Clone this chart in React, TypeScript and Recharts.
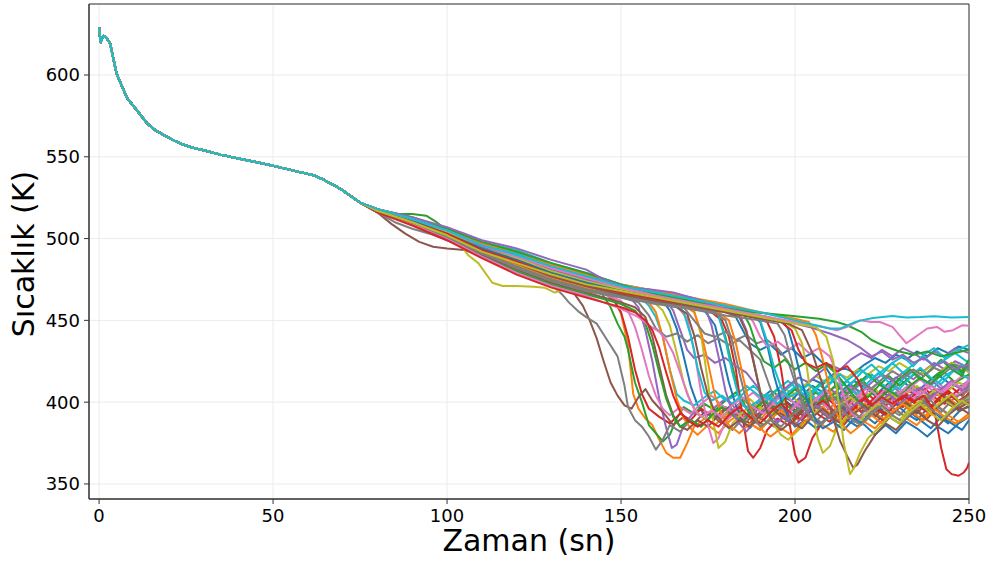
import React from "react";
import { LineChart, Line, XAxis, YAxis, CartesianGrid, Label, ReferenceArea } from "recharts";

const COLORS = ["#1f77b4", "#ff7f0e", "#2ca02c", "#d62728", "#9467bd", "#8c564b", "#e377c2", "#7f7f7f", "#bcbd22", "#17becf"];
const X_TICKS = [0, 50, 100, 150, 200, 250];
const Y_TICKS = [350, 400, 450, 500, 550, 600];

// shared early cooling curve (all runs overlap here)
const PREFIX = [[0,629],[0.4,620],[1.2,624],[2.2,622.5],[3.2,619],[4.2,609],[5,601],[6,596],[7,591],[8,586],[9.5,582],[11,578],[12.5,574],[14,570],[16,566.5],[18,564],[21,560.5],[24,557.5],[27,555.5],[30,554],[35,551.3],[40,549],[45,546.8],[50,544.5],[55,542],[60,539.5],[62,538.5],[65,535.5],[68,532],[70,529.5],[72,526.5],[75,522]];

const s00 = [[80,518],[90,511],[100,504],[110,494],[120,488],[130,480],[140,474],[150,469],[158,466],[162,462],[164,456],[166,445],[168,428],[170,410],[172,398],[174,392],[176,394],[178,389],[181,393],[184,399],[187,396],[190,402],[193,407],[196,403],[199,398],[202,404],[205,410],[208,406],[211,401],[214,408],[217,413],[220,409],[223,404],[226,410],[229,415],[232,411],[235,406],[238,412],[241,417],[244,412],[247,409],[250,413]];
const s01 = [[80,517],[90,510],[95,507],[101,504],[105,503],[108,499],[110,494],[115,488],[120,484],[130,477],[140,471],[145,468],[148,463],[150,454],[152,435],[153.5,405],[155,396],[157,390],[159,386],[161,377],[163,369],[165,366],[167,366],[169,375],[171,385],[174,390],[177,386],[180,392],[183,397],[186,391],[189,387],[192,394],[195,399],[198,393],[201,389],[204,396],[207,401],[210,396],[213,392],[216,399],[219,405],[222,399],[225,395],[228,402],[231,407],[234,401],[237,397],[240,404],[243,409],[246,403],[250,407]];
const s02 = [[80,518],[84,516],[86,515],[90,515],[94,514],[97,510],[100,505],[110,495],[120,489],[130,481],[140,474],[144,468],[147,458],[149,448],[151,440],[152,432],[154,412],[156,400],[158,386],[160,381],[162,376],[164,380],[166,390],[168,397],[171,393],[174,399],[177,395],[180,401],[183,406],[186,400],[189,396],[192,403],[195,408],[198,402],[201,398],[204,405],[207,411],[210,405],[213,401],[216,408],[219,414],[222,408],[225,404],[228,411],[231,416],[234,410],[237,406],[240,413],[243,418],[246,412],[250,417]];
const s03 = [[80,517],[90,510],[100,502],[110,492],[120,484],[130,476],[140,470],[145,467],[148,462],[150,455],[152,440],[154,420],[156,405],[158,396],[161,391],[164,387],[167,393],[170,389],[173,396],[176,392],[179,387],[182,394],[185,399],[188,393],[191,389],[194,396],[197,401],[200,395],[203,391],[206,398],[209,403],[212,397],[215,393],[218,400],[221,405],[224,399],[227,395],[230,402],[233,407],[236,401],[239,397],[242,404],[245,409],[248,404],[250,409]];
const s04 = [[80,518],[90,511],[100,503],[110,493],[120,487],[130,479],[140,473],[150,467],[153,463],[155,458],[157,444],[159,425],[161,402],[163,384],[164.6,372],[166,374],[168,386],[171,394],[174,390],[177,397],[180,402],[183,396],[186,392],[189,399],[192,404],[195,398],[198,394],[201,401],[204,406],[207,400],[210,396],[213,403],[216,408],[219,402],[222,398],[225,405],[228,410],[231,404],[234,400],[237,407],[240,412],[243,406],[246,402],[250,411]];
const s05 = [[80,516],[84,509],[88,503],[92,498],[96,495],[100,494],[105,493],[110,490],[115,486],[120,482],[125,479],[130,474],[134,470],[136,468],[139,459],[141,450],[143,439],[145,425],[147,412],[149,404],[151,398],[153,396],[155,403],[157,408],[159,401],[162,394],[165,386],[168,391],[171,387],[174,394],[177,390],[180,397],[183,392],[186,388],[189,395],[192,400],[195,394],[198,390],[201,397],[204,402],[207,396],[210,392],[213,399],[216,404],[219,398],[222,394],[225,401],[228,406],[231,400],[234,396],[237,403],[240,408],[243,402],[246,398],[250,405]];
const s06 = [[80,517],[90,510],[100,502],[110,491],[120,483],[130,475],[140,469],[145,466],[150,462],[152,456],[154,446],[156,432],[158,416],[160,404],[162,396],[164,392],[167,397],[170,393],[173,399],[176,404],[179,398],[182,394],[185,401],[188,406],[191,400],[194,396],[197,403],[200,408],[203,402],[206,398],[209,405],[212,410],[215,404],[218,400],[221,407],[224,412],[227,406],[230,402],[233,409],[236,414],[239,408],[242,404],[245,411],[248,416],[250,415]];
const s07 = [[80,516],[85,510],[90,506],[95,503],[100,499],[110,490],[120,483],[126,478],[130,472],[133,466],[135,461],[138,455],[140,452],[143,448],[146,438],[149,428],[151,410],[152,397],[154,389],[156,385],[158,379],[160,371],[162,377],[164,386],[167,382],[170,389],[173,385],[176,392],[179,388],[182,383],[185,390],[188,395],[191,389],[194,385],[197,392],[200,398],[203,392],[206,388],[209,395],[212,400],[215,394],[218,390],[221,397],[224,402],[227,396],[230,392],[233,399],[236,404],[239,398],[242,394],[245,401],[248,406],[250,408]];
const s08 = [[80,517],[90,510],[100,503],[104,496],[106,490],[109,485],[113,473],[116,471],[120,471],[125,470.5],[128,470],[131,467],[135,470],[140,469],[145,467],[150,465],[155,463],[160,460],[162,456],[164,447],[166,430],[168,412],[170,400],[172,393],[175,389],[178,395],[181,391],[184,397],[187,402],[190,396],[193,392],[196,399],[199,404],[202,398],[205,394],[208,401],[211,406],[214,400],[217,396],[220,403],[223,408],[226,402],[229,398],[232,405],[235,410],[238,404],[241,400],[244,407],[247,412],[250,409]];
const s09 = [[80,518],[90,511],[100,505],[110,495],[115,491],[118,490],[121,488],[124,486],[128,481],[130,479],[135,478],[140,476],[145,473],[150,470],[155,465],[158,459],[160,452],[162,440],[164,420],[166,405],[168,401],[171,398],[174,403],[177,407],[180,401],[183,404],[186,410],[189,405],[192,401],[195,408],[198,413],[201,407],[204,403],[207,410],[210,415],[213,409],[216,405],[219,412],[222,417],[225,411],[228,407],[231,414],[234,419],[237,413],[240,409],[243,416],[246,420],[250,414]];
const s10 = [[80,517],[90,511],[100,503],[110,493],[120,486],[130,478],[140,472],[150,467],[160,463],[170,459],[174,456],[177,447],[179,430],[181,412],[183,398],[185,388],[187,384],[190,392],[193,399],[196,404],[199,401],[202,408],[205,414],[208,411],[211,417],[214,421],[217,418],[220,423],[223,427],[226,424],[229,429],[232,426],[235,431],[238,428],[241,433],[244,430],[247,434],[250,432]];
const s11 = [[80,517],[90,511],[100,503],[110,494],[120,487],[130,479],[140,473],[150,468],[155,465],[158,461],[160,455],[162,440],[164,420],[166,402],[168,390],[170,384],[172,380],[175,386],[178,381],[181,388],[184,393],[187,387],[190,383],[193,390],[196,395],[199,389],[202,385],[205,392],[208,397],[211,391],[214,387],[217,394],[220,399],[223,393],[226,389],[229,396],[232,401],[235,395],[238,391],[241,398],[244,403],[247,397],[250,406]];
const s12 = [[80,518],[90,512],[100,505],[110,496],[120,490],[130,482],[140,476],[150,470],[160,466],[170,462],[175,459],[178,453],[180,440],[182,422],[184,405],[186,396],[188,390],[191,386],[194,393],[197,399],[200,394],[203,400],[206,406],[209,400],[212,407],[215,413],[218,407],[221,403],[224,410],[227,416],[230,410],[233,415],[236,420],[239,414],[242,419],[245,424],[248,418],[250,423]];
const s13 = [[80,516],[90,510],[100,502],[110,492],[120,484],[130,476],[140,470],[150,466],[160,462],[170,458],[176,455],[179,450],[181,440],[183,420],[185,390],[186.5,370],[188,366],[190,372],[192,383],[195,390],[198,386],[201,393],[204,398],[207,392],[210,388],[213,395],[216,400],[219,394],[222,401],[225,407],[228,401],[231,397],[234,404],[237,409],[240,403],[243,399],[246,406],[250,412]];
const s14 = [[80,517],[90,511],[100,504],[110,494],[120,488],[130,480],[140,474],[150,469],[158,465],[163,462],[165,456],[167,444],[169,432],[171,427],[174,429],[177,424],[180,427],[183,422],[186,418],[189,410],[191,400],[193,392],[195,388],[198,393],[201,399],[204,395],[207,402],[210,408],[213,404],[216,410],[219,406],[222,412],[225,417],[228,413],[231,418],[234,414],[237,419],[240,424],[243,420],[246,425],[250,421]];
const s15 = [[80,517],[90,509],[100,501],[110,490],[120,481],[130,473],[140,467],[145,464],[150,461],[154,458],[157,452],[159,440],[161,422],[163,404],[165,392],[167,385],[169,383],[172,389],[175,385],[178,392],[181,397],[184,391],[187,387],[190,394],[193,399],[196,393],[199,389],[202,396],[205,401],[208,395],[211,391],[214,398],[217,403],[220,397],[223,393],[226,400],[229,405],[232,399],[235,395],[238,402],[241,407],[244,401],[247,397],[250,406]];
const s16 = [[80,517],[90,511],[100,503],[110,493],[120,486],[130,478],[140,472],[150,467],[160,463],[166,459],[169,451],[171,432],[173,406],[175,386],[176.5,375],[178,378],[180,388],[183,394],[186,389],[189,397],[192,403],[195,397],[198,393],[201,400],[204,406],[207,400],[210,396],[213,403],[216,409],[219,403],[222,399],[225,406],[228,412],[231,406],[234,402],[237,409],[240,414],[243,408],[246,404],[250,409]];
const s17 = [[80,516],[90,509],[100,501],[110,491],[120,482],[130,474],[140,468],[150,464],[155,461],[158,453],[160,445],[163,440],[166,442],[169,437],[172,441],[175,436],[178,439],[181,435],[184,438],[187,432],[190,426],[192,414],[194,402],[196,395],[199,391],[202,397],[205,402],[208,396],[211,392],[214,399],[217,404],[220,398],[223,394],[226,401],[229,406],[232,400],[235,396],[238,403],[241,408],[244,402],[247,398],[250,411]];
const s18 = [[80,518],[90,512],[100,504],[110,495],[120,489],[130,481],[140,475],[150,469],[160,465],[168,461],[171,456],[173,441],[175,412],[176.5,388],[178,372],[180,376],[182,387],[185,394],[188,399],[191,396],[194,403],[197,408],[200,405],[203,411],[206,416],[209,412],[212,418],[215,415],[218,420],[221,417],[224,422],[227,419],[230,424],[233,420],[236,417],[239,422],[242,419],[245,424],[248,421],[250,418]];
const s19 = [[80,518],[90,512],[100,505],[110,496],[118,491],[124,488],[130,484],[140,478],[150,471],[160,466],[165,463],[168,455],[170,441],[172,421],[174,406],[176,401],[179,404],[182,399],[185,405],[188,410],[191,404],[194,400],[197,407],[200,412],[203,406],[206,402],[209,409],[212,415],[215,409],[218,405],[221,412],[224,418],[227,412],[230,408],[233,415],[236,421],[239,415],[242,411],[245,418],[248,423],[250,419]];
const s20 = [[80,517],[90,511],[100,503],[110,494],[120,487],[130,479],[140,473],[150,468],[160,464],[170,460],[180,456],[183,452],[185,444],[187,436],[190,432],[193,435],[196,429],[199,433],[202,427],[205,430],[208,424],[211,414],[213,402],[215,393],[217,388],[220,392],[223,387],[226,394],[229,399],[232,393],[235,389],[238,396],[241,392],[244,387],[247,394],[250,398]];
const s21 = [[80,516],[90,510],[100,502],[110,492],[120,485],[130,477],[140,471],[150,466],[160,462],[168,459],[171,455],[173,443],[175,424],[177,404],[179,392],[181,386],[184,381],[187,387],[190,383],[193,390],[196,395],[199,389],[202,385],[205,392],[208,397],[211,391],[214,387],[217,394],[220,399],[223,393],[226,389],[229,396],[232,401],[235,395],[238,391],[241,398],[244,403],[247,397],[250,401]];
const s22 = [[80,517],[90,509],[100,500],[110,489],[120,480],[130,472],[140,466],[145,463],[150,460],[154,456],[157,448],[159,435],[161,418],[163,402],[165,391],[167,385],[170,389],[173,385],[176,392],[179,397],[182,392],[185,388],[188,395],[191,401],[194,396],[197,402],[200,408],[203,402],[206,398],[209,405],[212,411],[215,405],[218,411],[221,417],[224,411],[227,407],[230,414],[233,420],[236,414],[239,420],[242,426],[245,420],[248,416],[250,425]];
const s23 = [[80,517],[90,510],[100,503],[110,493],[120,486],[130,478],[140,472],[150,467],[160,463],[170,459],[180,456],[188,452],[192,449],[194,440],[196,420],[198,392],[200,368],[201,363],[203,366],[205,378],[208,388],[211,394],[214,389],[217,396],[220,402],[223,396],[226,392],[229,399],[232,404],[235,398],[238,394],[241,401],[244,406],[247,400],[250,405]];
const s24 = [[80,518],[90,512],[100,505],[110,497],[120,491],[130,483],[140,477],[150,471],[160,467],[170,463],[174,459],[176,447],[178,428],[180,407],[182,394],[184,387],[186,382],[189,390],[192,398],[195,404],[198,410],[201,415],[204,412],[207,418],[210,423],[213,420],[216,426],[219,430],[222,427],[225,432],[228,428],[231,433],[234,430],[237,426],[240,431],[243,428],[246,433],[250,430]];
const s25 = [[80,517],[90,510],[100,502],[110,491],[120,483],[130,475],[140,469],[150,465],[160,461],[166,458],[169,454],[171,441],[173,421],[175,404],[177,394],[179,388],[181,384],[184,389],[187,385],[190,392],[193,397],[196,391],[199,387],[202,394],[205,399],[208,393],[211,389],[214,396],[217,401],[220,395],[223,391],[226,398],[229,403],[232,397],[235,393],[238,400],[241,405],[244,399],[247,395],[250,397]];
const s26 = [[80,517],[90,509],[100,500],[110,489],[115,484],[120,479],[130,471],[140,465],[145,461],[150,457],[155,452],[158,447],[161,443],[163,438],[165,430],[167,418],[169,405],[171,396],[173,391],[176,395],[179,391],[182,398],[185,403],[188,397],[191,393],[194,400],[197,405],[200,399],[203,395],[206,402],[209,407],[212,401],[215,397],[218,404],[221,409],[224,403],[227,399],[230,406],[233,411],[236,405],[239,401],[242,408],[245,413],[248,407],[250,413]];
const s27 = [[80,516],[90,511],[100,504],[110,494],[120,488],[130,480],[140,474],[150,469],[160,465],[165,462],[168,458],[171,450],[174,442],[177,440],[180,443],[183,438],[186,441],[189,436],[192,438],[195,433],[198,425],[200,412],[202,400],[204,394],[207,398],[210,404],[213,400],[216,407],[219,412],[222,408],[225,414],[228,419],[231,415],[234,420],[237,416],[240,421],[243,418],[246,423],[250,420]];
const s28 = [[80,517],[90,511],[100,503],[110,494],[120,487],[130,479],[140,473],[150,468],[160,464],[170,460],[180,456],[184,453],[186,444],[188,426],[190,407],[192,394],[194,386],[196,380],[198,377],[201,383],[204,390],[207,396],[210,391],[213,398],[216,403],[219,397],[222,393],[225,400],[228,405],[231,399],[234,395],[237,402],[240,407],[243,401],[246,397],[250,403]];
const s29 = [[80,518],[90,512],[100,506],[110,498],[120,493],[130,485],[140,479],[150,472],[160,468],[170,464],[176,460],[178,453],[180,438],[182,418],[184,402],[186,396],[189,400],[192,405],[195,399],[198,406],[201,411],[204,405],[207,410],[210,416],[213,410],[216,415],[219,420],[222,414],[225,419],[228,424],[231,418],[234,423],[237,428],[240,422],[243,426],[246,430],[250,424]];
const s30 = [[80,517],[90,511],[100,504],[110,494],[120,488],[130,480],[140,474],[150,469],[160,465],[170,461],[180,457],[187,454],[190,449],[192,435],[194,416],[196,401],[198,391],[200,385],[203,389],[206,384],[209,390],[212,395],[215,389],[218,385],[221,392],[224,397],[227,391],[230,387],[233,394],[236,389],[239,384],[242,391],[245,387],[248,383],[250,389]];
const s31 = [[80,517],[90,510],[100,502],[110,492],[120,484],[130,476],[140,470],[150,466],[160,462],[170,458],[178,455],[181,450],[183,436],[185,416],[187,398],[189,388],[191,382],[193,379],[196,384],[199,380],[202,387],[205,392],[208,386],[211,382],[214,389],[217,394],[220,388],[223,384],[226,391],[229,396],[232,390],[235,386],[238,393],[241,398],[244,392],[247,388],[250,393]];
const s32 = [[80,518],[90,512],[100,505],[110,496],[120,490],[130,482],[140,476],[150,470],[160,466],[170,462],[180,458],[185,455],[187,447],[189,434],[191,425],[194,421],[197,426],[200,420],[203,424],[206,419],[209,423],[212,417],[215,409],[218,401],[221,396],[224,402],[227,407],[230,403],[233,410],[236,415],[239,411],[242,418],[245,423],[248,419],[250,426]];
const s33 = [[80,516],[90,508],[100,499],[110,488],[120,478],[130,470],[140,464],[145,461],[150,458],[154,455],[157,450],[159,444],[161,433],[163,418],[165,404],[167,394],[169,389],[172,385],[175,389],[178,385],[181,392],[184,397],[187,391],[190,387],[193,394],[196,399],[199,393],[202,389],[205,396],[208,401],[211,395],[214,391],[217,398],[220,403],[223,397],[226,393],[229,400],[232,405],[235,399],[238,395],[241,402],[244,407],[247,401],[250,404]];
const s34 = [[80,517],[90,511],[100,504],[110,495],[120,489],[130,481],[140,475],[150,470],[160,465],[170,461],[180,457],[184,454],[186,444],[188,426],[190,406],[192,394],[194,387],[197,391],[200,386],[203,393],[206,398],[209,392],[212,388],[215,395],[218,400],[221,394],[224,399],[227,405],[230,399],[233,404],[236,409],[239,403],[242,408],[245,413],[248,407],[250,410]];
const s35 = [[80,517],[90,510],[100,502],[110,493],[120,485],[130,477],[140,471],[150,466],[160,462],[170,459],[180,455],[184,452],[186,443],[188,425],[190,406],[192,394],[194,387],[196,383],[199,388],[202,384],[205,391],[208,396],[211,390],[214,386],[217,393],[220,398],[223,392],[226,388],[229,395],[232,400],[235,394],[238,390],[241,397],[244,402],[247,396],[250,400]];
const s36 = [[80,517],[90,512],[100,505],[110,496],[120,490],[130,482],[140,476],[150,470],[160,466],[170,462],[180,458],[186,455],[188,449],[190,440],[192,434],[195,437],[198,432],[201,436],[204,430],[207,433],[210,428],[212,418],[214,404],[216,394],[218,389],[221,394],[224,400],[227,396],[230,403],[233,408],[236,404],[239,410],[242,406],[245,412],[248,409],[250,414]];
const s37 = [[80,517],[90,510],[100,502],[110,491],[120,483],[130,475],[140,469],[150,465],[160,461],[170,458],[177,455],[180,450],[182,437],[184,418],[186,401],[188,391],[190,385],[193,389],[196,385],[199,392],[202,397],[205,391],[208,387],[211,394],[214,399],[217,393],[220,389],[223,396],[226,401],[229,395],[232,391],[235,398],[238,403],[241,397],[244,393],[247,400],[250,404]];
const s38 = [[80,517],[90,511],[100,504],[110,494],[120,488],[130,480],[140,474],[150,469],[160,465],[170,461],[180,457],[190,453],[196,450],[200,445],[202,436],[203.5,420],[205,396],[206.5,378],[208,369],[210,373],[212,384],[215,392],[218,387],[221,394],[224,399],[227,393],[230,389],[233,396],[236,401],[239,395],[242,400],[245,405],[248,399],[250,403]];
const s39 = [[80,517],[90,512],[100,505],[110,496],[120,491],[130,483],[140,477],[150,471],[160,467],[170,463],[180,459],[187,455],[190,450],[192,437],[194,421],[196,409],[198,403],[201,406],[204,411],[207,405],[210,412],[213,417],[216,411],[219,418],[222,423],[225,417],[228,424],[231,428],[234,422],[237,429],[240,433],[243,427],[246,431],[250,435]];
const s40 = [[80,517],[90,511],[100,503],[110,494],[120,487],[130,479],[140,473],[150,468],[160,464],[170,460],[180,456],[190,452],[196,450],[198,445],[200,430],[202,412],[204,398],[206,389],[208,384],[211,388],[214,383],[217,390],[220,386],[223,380],[226,386],[229,381],[232,388],[235,384],[238,379],[241,385],[244,381],[247,387],[250,391]];
const s41 = [[80,518],[90,512],[100,506],[110,497],[120,492],[130,484],[140,478],[150,472],[160,468],[170,464],[180,460],[190,455],[200,451],[204,449],[206,441],[208,426],[210,407],[212,393],[214,385],[216,381],[219,386],[222,392],[225,387],[228,394],[231,399],[234,393],[237,389],[240,396],[243,391],[246,387],[250,391]];
const s42 = [[80,518],[90,513],[100,506],[110,498],[120,492],[130,485],[140,479],[150,472],[160,466],[170,462],[178,458],[188,455],[198,453],[207,451],[212,449],[215,447],[219,443],[222,438],[226,434],[230,431],[234,429],[238,431],[242,428],[246,430],[250,432]];
const s43 = [[80,517],[90,510],[100,503],[110,493],[120,486],[130,478],[140,472],[150,467],[160,463],[170,459],[180,456],[190,452],[196,449],[199,444],[201,432],[203,424],[206,421],[209,424],[212,419],[215,422],[218,414],[220,404],[222,398],[225,403],[228,399],[231,404],[234,400],[237,404],[239,398],[240.5,390],[242,372],[243.5,359],[245,356],[247,355],[248.5,357],[249.5,360],[250,363]];
const s44 = [[80,518],[90,513],[100,507],[110,499],[120,494],[130,487],[140,481],[145,475],[151.7,470],[158,469],[165,467],[172.7,462.5],[177.5,458],[185,455],[192,452],[198,449],[204,446],[210,442],[215,438],[219,433],[222,428],[225,431],[228,426],[231,429],[234,424],[237,427],[240,422],[243,425],[246,420],[250,423]];
const s45 = [[80,517],[90,510],[100,502],[110,492],[120,485],[130,477],[140,471],[150,466],[160,462],[170,459],[180,455],[190,451],[198,448],[202,444],[205,430],[208,410],[211,390],[213,376],[215,367],[216.7,360],[218,362],[220,370],[223,380],[226,387],[229,383],[232,390],[235,395],[238,389],[241,385],[244,392],[247,397],[250,393]];
const s46 = [[80,518],[90,512],[100,505],[110,496],[120,489],[130,482],[140,476],[150,470],[160,465],[170,461],[180,457],[190,453],[200,449],[208,446],[212,444],[215,446],[218.7,450],[222,449],[224.4,449],[228,446],[230,441],[232,436],[234,439],[236,442],[238,445],[240.8,446],[243,443],[245.4,444],[248,447],[250,446.7]];
const s47 = [[80,517],[90,510],[100,501],[110,491],[120,482],[130,474],[140,468],[150,464],[160,460],[170,457],[180,453],[190,450],[195,448],[197,441],[199,425],[201,407],[203,395],[205,389],[207,386],[210,391],[213,396],[216,390],[219,386],[222,393],[225,398],[228,392],[231,388],[234,395],[237,400],[240,394],[243,390],[246,397],[250,402]];
const s48 = [[80,517],[90,510],[100,502],[110,492],[120,485],[130,478],[140,472],[150,468],[160,464],[170,460],[180,456],[190,452],[200,448],[206,446],[209,440],[211,425],[212.5,400],[214,375],[215.8,356],[217,360],[218.7,369],[221,378],[224.4,385],[227,391],[230,387],[233,394],[236,399],[239,393],[242,389],[245,396],[248,401],[250,398]];
const s49 = [[80,518],[90,512],[100,505],[110,496],[120,490],[130,483],[140,477],[150,471],[160,467],[170,463],[180,459],[190,455],[200,450],[206,447],[210,445],[213,445],[216.7,448.5],[219,450],[222.4,451.4],[228,452.6],[232,451.8],[236,452],[240,452.5],[245,451.8],[250,452]];

const RUNS = [s00,s01,s02,s03,s04,s05,s06,s07,s08,s09,s10,s11,s12,s13,s14,s15,s16,s17,s18,s19,s20,s21,s22,s23,s24,s25,s26,s27,s28,s29,s30,s31,s32,s33,s34,s35,s36,s37,s38,s39,s40,s41,s42,s43,s44,s45,s46,s47,s48,s49];

const seriesData = RUNS.map((run) => [...PREFIX, ...run].map(([t, v]) => ({ t, v })));

const X_DOMAIN = [-2.9, 250];
const Y_DOMAIN = [340.8, 643.4];
const FONT = "'DejaVu Sans', Verdana, sans-serif";
const AXIS_COLOR = "#333333";

export default function App() {
  return (
    <div style={{ position: "absolute", left: 0, top: 0, width: 996, height: 572, background: "#fff" }}>
      <LineChart width={996} height={572} margin={{ top: 4, right: 27, bottom: 0, left: 0 }}>
        <CartesianGrid stroke="#ebebeb" strokeWidth={1} />
        <XAxis
          type="number"
          dataKey="t"
          domain={X_DOMAIN}
          ticks={X_TICKS}
          allowDataOverflow
          height={73}
          stroke={AXIS_COLOR}
          tickSize={5}
          tickMargin={5}
          tick={{ fill: "#000", fontSize: 18, fontFamily: FONT }}
        >
          <Label
            content={() => (
              <text x={529} y={551} textAnchor="middle" fontSize={30} fontFamily={FONT} fill="#000">
                Zaman (sn)
              </text>
            )}
          />
        </XAxis>
        <YAxis
          type="number"
          domain={Y_DOMAIN}
          ticks={Y_TICKS}
          allowDataOverflow
          width={89}
          stroke={AXIS_COLOR}
          tickSize={5}
          tickMargin={4}
          tick={{ fill: "#000", fontSize: 18, fontFamily: FONT }}
        >
          <Label
            content={() => (
              <text x={34} y={254} transform="rotate(-90, 34, 254)" textAnchor="middle" fontSize={30} fontFamily={FONT} fill="#000">
                Sıcaklık (K)
              </text>
            )}
          />
        </YAxis>
        {seriesData.map((d, i) => (
          <Line
            key={i}
            data={d}
            dataKey="v"
            type="linear"
            stroke={COLORS[i % 10]}
            strokeWidth={2}
            dot={false}
            isAnimationActive={false}
            strokeLinejoin="round"
          />
        ))}
        <ReferenceArea x1={X_DOMAIN[0]} x2={X_DOMAIN[1]} y1={Y_DOMAIN[0]} y2={Y_DOMAIN[1]} fill="none" fillOpacity={0} stroke={AXIS_COLOR} strokeWidth={1} strokeOpacity={1} ifOverflow="extendDomain" />
      </LineChart>
    </div>
  );
}
